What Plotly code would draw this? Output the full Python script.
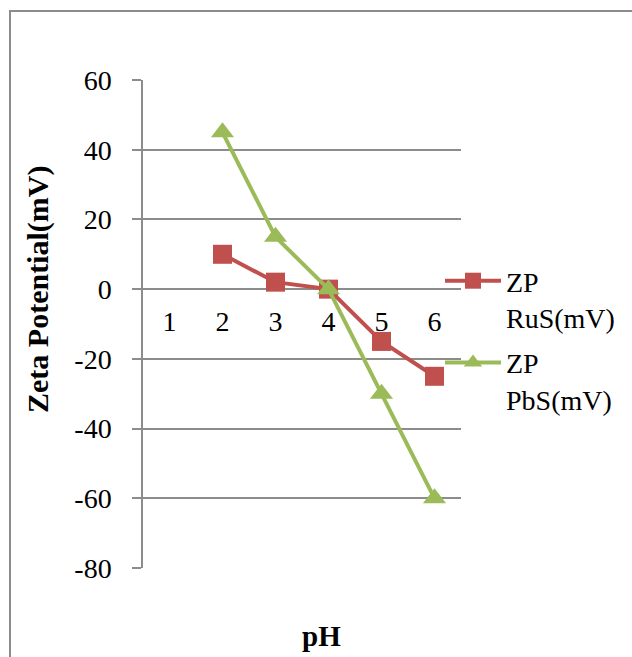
import plotly.graph_objects as go

# pH categories and zeta potential readings (mV); pH 1 has no reading
ph_values = [1, 2, 3, 4, 5, 6]
ph_labels = ["1", "2", "3", "4", "5", "6"]
zp_rus = [None, 10, 2, 0, -15, -25]
zp_pbs = [None, 45, 15, 0, -30, -60]
y_ticks = [-80, -60, -40, -20, 0, 20, 40, 60]
y_labels = [str(v) for v in y_ticks]  # plain hyphen for negatives

RED = "#C0504D"
GREEN = "#9BBB59"
GRID = "#8C8C8C"
FONT = "Liberation Serif"

W, H = 632, 657
L, R, T, B = 143, 171, 80, 89
pw, ph = W - L - R, H - T - B


def px_x(p):
    return (p - L) / pw


def px_y(p):
    return (H - B - p) / ph


fig = go.Figure()
fig.add_trace(go.Scatter(
    x=ph_values, y=zp_rus, name="ZP<br>RuS(mV)", mode="lines+markers",
    legendgroup="rus",
    line=dict(color=RED, width=4),
    marker=dict(symbol="square", size=19, color=RED),
    connectgaps=False,
))
fig.add_trace(go.Scatter(
    x=ph_values, y=zp_pbs, name="ZP<br>PbS(mV)", mode="lines+markers",
    legendgroup="pbs",
    line=dict(color=GREEN, width=4),
    marker=dict(symbol="triangle-up", size=20, color=GREEN),
    connectgaps=False,
))

ymin, ymax = y_ticks[0], y_ticks[-1]

fig.update_layout(
    width=W, height=H,
    margin=dict(l=L, r=R, t=T, b=B, pad=0),
    paper_bgcolor="white", plot_bgcolor="white",
    font=dict(family=FONT, size=28, color="black"),
    showlegend=True,
    legend=dict(
        x=px_x(440), y=px_y(256), xanchor="left", yanchor="top",
        valign="top", bgcolor="rgba(0,0,0,0)",
        font=dict(family=FONT, size=28, color="black"),
        tracegroupgap=6, traceorder="grouped", itemwidth=56,
    ),
    xaxis=dict(
        range=[0.5, 6.5], tickmode="array", tickvals=ph_values, ticktext=ph_labels,
        showgrid=False, zeroline=False,
        showline=False, ticks="",
        anchor="free", position=(0 - ymin) / (ymax - ymin),
        ticklabelstandoff=13,
        tickfont=dict(family=FONT, size=28),
    ),
    yaxis=dict(
        range=[ymin, ymax], tickmode="array", tickvals=y_ticks, ticktext=y_labels,
        showgrid=True, gridcolor=GRID, gridwidth=1.5,
        zeroline=True, zerolinecolor=GRID, zerolinewidth=1.5,
        showline=True, linecolor=GRID, linewidth=1.5,
        ticks="outside", ticklen=9, tickcolor=GRID, tickwidth=1.5,
        ticklabelstandoff=15,
        tickfont=dict(family=FONT, size=28),
    ),
    annotations=[
        dict(text="<b>Zeta Potential(mV)</b>", textangle=-90,
             x=px_x(38), y=px_y(290), xref="paper", yref="paper",
             xanchor="center", yanchor="middle",
             showarrow=False, font=dict(family=FONT, size=30)),
        dict(text="<b>pH</b>",
             x=px_x(321), y=px_y(636), xref="paper", yref="paper",
             xanchor="center", yanchor="middle",
             showarrow=False, font=dict(family=FONT, size=29)),
    ],
    shapes=[
        dict(type="rect", xref="paper", yref="paper",
             x0=px_x(10), x1=px_x(700), y0=px_y(720), y1=px_y(11),
             line=dict(color="#8C8C8C", width=2), fillcolor="rgba(0,0,0,0)",
             layer="below"),
    ],
)

fig.write_html("out.html")
